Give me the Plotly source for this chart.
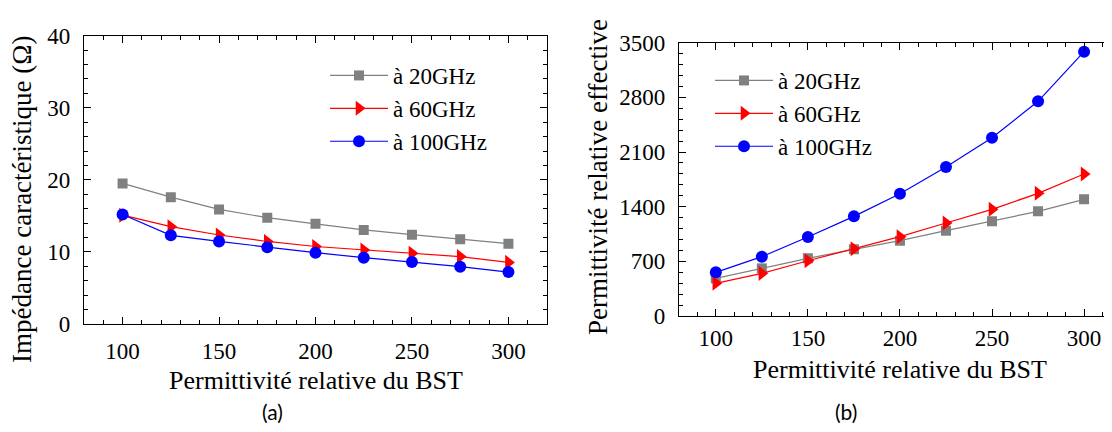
import plotly.graph_objects as go

eps_bst = [100, 125, 150, 175, 200, 225, 250, 275, 300]
series_names = ["à 20GHz", "à 60GHz", "à 100GHz"]

z_20 = [19.5, 17.6, 15.9, 14.75, 13.9, 13.05, 12.4, 11.75, 11.15]
z_60 = [15.1, 13.5, 12.35, 11.45, 10.75, 10.25, 9.8, 9.35, 8.55]
z_100 = [15.2, 12.3, 11.45, 10.65, 9.9, 9.2, 8.6, 7.95, 7.2]

e_20 = [482, 610, 738, 854, 965, 1093, 1212, 1340, 1494]
e_60 = [418, 546, 708, 862, 1016, 1191, 1366, 1571, 1818]
e_100 = [559, 760, 1012, 1276, 1566, 1908, 2283, 2749, 3385]

x_ticks = [100, 150, 200, 250, 300]

colors = ["#808080", "#ff0000", "#0000ff"]
symbols = ["square", "triangle-right", "circle"]
msizes = [10, 13, 12]

SERIF = "Liberation Serif, Times New Roman, DejaVu Serif, serif"
W, H = 1112, 432
OFF = 8  # page body margin


def px(x):
    return (x - OFF) / W


def py(y):
    return 1 - (y - OFF) / H


fig = go.Figure()
for name, ys, c, s, ms in zip(series_names, [z_20, z_60, z_100], colors, symbols, msizes):
    fig.add_trace(go.Scatter(x=eps_bst, y=ys, name=name, mode="lines+markers",
                             line=dict(color=c, width=1.2),
                             marker=dict(symbol=s, size=ms, color=c),
                             xaxis="x", yaxis="y", legend="legend"))
for name, ys, c, s, ms in zip(series_names, [e_20, e_60, e_100], colors, symbols, msizes):
    fig.add_trace(go.Scatter(x=eps_bst, y=ys, name=name, mode="lines+markers",
                             line=dict(color=c, width=1.2),
                             marker=dict(symbol=s, size=ms, color=c),
                             xaxis="x2", yaxis="y2", legend="legend2"))

axis_common = dict(showline=True, linecolor="black", linewidth=1.2, mirror="allticks",
                   ticks="inside", ticklen=7, tickcolor="black", tickwidth=1.2,
                   showgrid=False, zeroline=False, automargin=False,
                   tickfont=dict(family=SERIF, size=23, color="black"))


def minor(d):
    return dict(dtick=d, ticklen=4, tickcolor="black", tickwidth=1.2, ticks="inside")


legend_common = dict(xanchor="left", yanchor="top", bgcolor="rgba(0,0,0,0)",
                     font=dict(family=SERIF, size=23, color="black"), itemwidth=58,
                     tracegroupgap=0)

fig.update_layout(
    width=W, height=H,
    font=dict(family=SERIF, color="black"),
    margin=dict(l=0, r=0, t=0, b=0, pad=0, autoexpand=False),
    paper_bgcolor="white", plot_bgcolor="white",
    xaxis=dict(domain=[px(84), px(547)], range=[80, 320], tickvals=x_ticks,
               minor=minor(10), anchor="y", ticklabelstandoff=6, **axis_common),
    yaxis=dict(domain=[py(324), py(35.7)], range=[0, 40], dtick=10,
               minor=minor(2), anchor="x", ticklabelstandoff=8, **axis_common),
    xaxis2=dict(domain=[px(679), px(1115)], range=[80, 316.8], tickvals=x_ticks,
                minor=minor(10), anchor="y2", ticklabelstandoff=1, **axis_common),
    yaxis2=dict(domain=[py(316), py(42.7)], range=[0, 3500], dtick=700,
                minor=minor(140), anchor="x2", ticklabelstandoff=8, **axis_common),
    legend=dict(x=px(325), y=py(54), **legend_common),
    legend2=dict(x=px(710), y=py(59), **legend_common),
    annotations=[
        dict(text="Impédance caractéristique (Ω)", x=px(22), y=py(200),
             textangle=-90, font=dict(family=SERIF, size=27, color="black")),
        dict(text="Permittivité relative effective", x=px(598), y=py(177), textangle=-90,
             font=dict(family=SERIF, size=27, color="black")),
        dict(text="Permittivité relative du BST", x=px(316), y=py(380),
             font=dict(family=SERIF, size=26, color="black")),
        dict(text="Permittivité relative du BST", x=px(900), y=py(369),
             font=dict(family=SERIF, size=26, color="black")),
        dict(text="(a)", x=px(272), y=py(411),
             font=dict(family="Lato, Open Sans, sans-serif", size=21, color="black")),
        dict(text="(b)", x=px(846), y=py(411),
             font=dict(family="Lato, Open Sans, sans-serif", size=21, color="black")),
    ],
    showlegend=True,
)
for a in fig.layout.annotations:
    a.xref = "paper"
    a.yref = "paper"
    a.xanchor = "center"
    a.yanchor = "middle"
    a.showarrow = False

fig.write_html("out.html")
